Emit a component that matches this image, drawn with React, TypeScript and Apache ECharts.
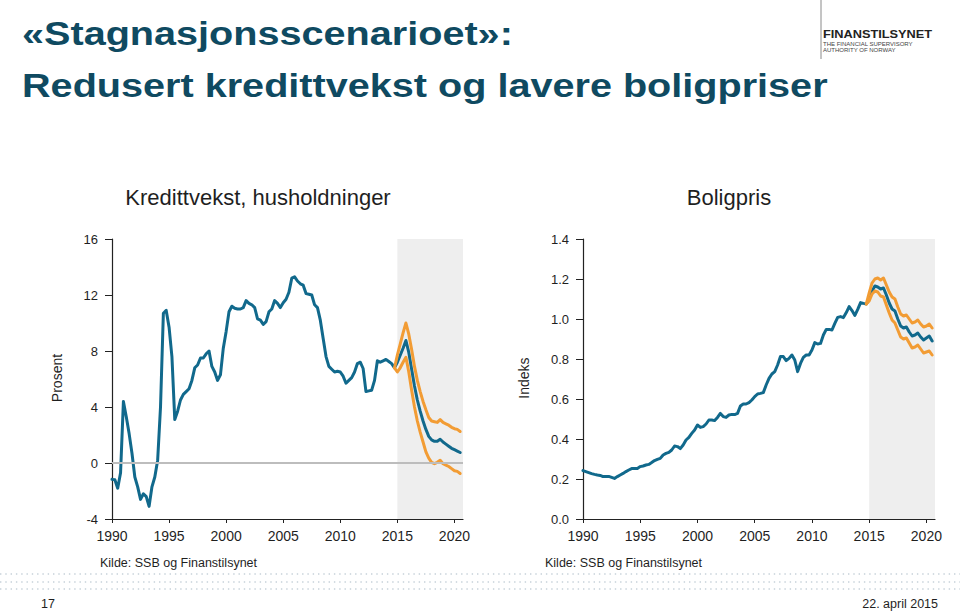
import React, { useEffect, useRef } from "react";
import * as echarts from "echarts";

// ---------- data ----------
const xTicks = [1990, 1995, 2000, 2005, 2010, 2015, 2020];
const historyStart = 1990; // first quarter of history
const forecastJoin = 2014.75; // last historical quarter, where scenarios start
const shadeStart = 2015;
const axisEnd = 2020.75;

// Kredittvekst, husholdninger (prosent), quarterly 1990Q1–2014Q4
const creditHistory = [
  -1.17, -1.2, -1.8, -0.7, 4.4, 3.3, 2.1, 0.7, -1.0, -1.7, -2.6, -2.2, -2.4, -3.1, -1.7, -1.0,
  0.2, 4.0, 10.7, 10.9, 9.7, 7.6, 3.1, 3.7, 4.5, 4.9, 5.1, 5.3, 5.9, 6.8, 7.0, 7.5,
  7.5, 7.8, 8.0, 6.9, 6.5, 5.9, 6.3, 8.2, 9.4, 10.8, 11.2, 11.05, 11.0, 11.0, 11.1, 11.6,
  11.4, 11.3, 11.1, 10.3, 10.2, 9.9, 10.1, 10.8, 11.0, 11.6, 11.4, 11.1, 11.45, 11.7, 12.2, 13.2,
  13.3, 13.0, 12.8, 12.7, 12.1, 12.05, 12.0, 11.3, 11.1, 10.2, 8.9, 7.6, 6.9, 6.7, 6.5, 6.55,
  6.5, 6.2, 5.7, 5.9, 6.1, 6.5, 7.1, 7.2, 6.75, 5.1, 5.15, 5.2, 5.9, 7.3, 7.2, 7.3,
  7.4, 7.25, 7.1, 6.8,
];
// base scenario 2015Q1–2020Q3
const creditBase = [
  7.2, 7.7, 8.2, 8.75, 7.9, 6.7, 5.5, 4.5, 3.7, 3.0, 2.4, 1.9, 1.65, 1.55, 1.55, 1.7,
  1.5, 1.35, 1.2, 1.05, 0.95, 0.85, 0.75,
];
// stagnation band 2014Q4–2020Q3
const creditHigh = [
  6.8, 7.7, 8.5, 9.3, 10.0, 9.2, 8.1, 6.9, 5.9, 5.1, 4.4, 3.8, 3.25, 3.0, 2.95, 2.9,
  3.1, 2.9, 2.8, 2.7, 2.55, 2.45, 2.4, 2.25,
];
const creditLow = [
  6.8, 6.5, 6.8, 7.2, 7.55, 6.5, 5.2, 4.0, 3.0, 2.2, 1.5, 0.8, 0.35, 0.05, -0.05, 0.05,
  0.2, -0.05, -0.15, -0.25, -0.4, -0.55, -0.6, -0.75,
];

// Boligpris (indeks), quarterly 1990Q1–2014Q4
const houseHistory = [
  0.242, 0.237, 0.232, 0.227, 0.223, 0.22, 0.218, 0.212, 0.213, 0.213, 0.208, 0.203, 0.212, 0.22, 0.228, 0.237,
  0.245, 0.252, 0.252, 0.253, 0.262, 0.265, 0.27, 0.273, 0.282, 0.292, 0.298, 0.303, 0.32, 0.328, 0.333, 0.345,
  0.365, 0.362, 0.352, 0.37, 0.395, 0.408, 0.428, 0.445, 0.47, 0.458, 0.462, 0.475, 0.495, 0.495, 0.492, 0.508,
  0.528, 0.512, 0.508, 0.52, 0.523, 0.522, 0.528, 0.565, 0.575, 0.575, 0.582, 0.595, 0.612, 0.625, 0.628, 0.632,
  0.67, 0.703, 0.725, 0.737, 0.77, 0.812, 0.812, 0.792, 0.803, 0.82, 0.795, 0.737, 0.778, 0.808, 0.82, 0.82,
  0.845, 0.882, 0.875, 0.878, 0.92, 0.948, 0.948, 0.945, 0.978, 1.008, 1.012, 1.007, 1.032, 1.062, 1.042, 1.018,
  1.048, 1.082, 1.078, 1.075,
];
const houseBase = [
  1.1, 1.14, 1.165, 1.16, 1.15, 1.155, 1.12, 1.08, 1.05, 1.04, 1.0, 0.965, 0.955, 0.96, 0.935, 0.915,
  0.92, 0.93, 0.91, 0.895, 0.905, 0.915, 0.89,
];
const houseHigh = [
  1.075, 1.13, 1.18, 1.2, 1.205, 1.195, 1.205, 1.17, 1.135, 1.11, 1.1, 1.06, 1.025, 1.015, 1.02, 1.0,
  0.98, 0.985, 0.995, 0.975, 0.96, 0.965, 0.975, 0.955,
];
const houseLow = [
  1.075, 1.09, 1.125, 1.14, 1.135, 1.115, 1.11, 1.07, 1.03, 0.995, 0.98, 0.945, 0.91, 0.9, 0.905, 0.88,
  0.855, 0.86, 0.87, 0.85, 0.83, 0.835, 0.84, 0.82,
];

// ---------- helpers ----------
const quarterly = (values: number[], start: number) =>
  values.map((v, i) => [start + i * 0.25, v]);

const FONT = "'Liberation Sans', Arial, Helvetica, sans-serif";
const BLUE = "#11698c";
const ORANGE = "#f29c34";
const TITLE = "#0f4a61";
const TEXT = "#1f1f1f";

function xAxis(gridIndex: number) {
  return {
    type: "value",
    gridIndex,
    min: historyStart,
    max: axisEnd,
    axisLine: { show: true, onZero: false, lineStyle: { color: "#222", width: 1.2 } },
    axisTick: { show: true, length: 4, customValues: xTicks, lineStyle: { color: "#222", width: 1 } },
    axisLabel: {
      customValues: xTicks,
      color: TEXT,
      fontSize: 14,
      fontFamily: FONT,
      margin: 10,
      formatter: (v: number) => String(Math.round(v)),
    },
    splitLine: { show: false },
  };
}

function yAxis(gridIndex: number, min: number, max: number, interval: number, decimals: number) {
  return {
    type: "value",
    gridIndex,
    min,
    max,
    interval,
    axisLine: { show: true, lineStyle: { color: "#222", width: 1.2 } },
    axisTick: { show: true, length: 7, lineStyle: { color: "#222", width: 1 } },
    axisLabel: {
      color: TEXT,
      fontSize: 13,
      fontFamily: FONT,
      margin: 14,
      formatter: (v: number) => v.toFixed(decimals),
    },
    splitLine: { show: false },
  };
}

function lineSeries(name: string, idx: number, data: number[][], color: string, extra: any = {}) {
  return {
    name,
    type: "line",
    xAxisIndex: idx,
    yAxisIndex: idx,
    data,
    showSymbol: false,
    symbol: "none",
    lineStyle: { color, width: 3, join: "round", cap: "round" },
    silent: true,
    ...extra,
  };
}

const shade = {
  silent: true,
  itemStyle: { color: "#eeeeee" },
  data: [[{ xAxis: shadeStart }, { xAxis: axisEnd }]],
};

export default function App() {
  const ref = useRef<HTMLDivElement>(null);

  useEffect(() => {
    document.body.style.margin = "0";
    document.body.style.background = "#ffffff";
    if (!ref.current) return;
    const chart = echarts.init(ref.current, null, { renderer: "svg" });

    const creditMain = [
      ...quarterly(creditHistory, historyStart),
      ...quarterly(creditBase, shadeStart),
    ];
    const houseMain = [
      ...quarterly(houseHistory, historyStart),
      ...quarterly(houseBase, shadeStart),
    ];

    const dotted = [574, 582, 589].map((y) => ({
      type: "line",
      shape: { x1: 0, y1: y, x2: 960, y2: y },
      style: { stroke: "#c6d1d9", lineWidth: 1.4, lineDash: [1.4, 3.9] },
      silent: true,
    }));

    chart.setOption({
      animation: false,
      backgroundColor: "#ffffff",
      textStyle: { fontFamily: FONT },
      grid: [
        { left: 112, top: 239, width: 351, height: 280 },
        { left: 583, top: 239, width: 352, height: 280 },
      ],
      xAxis: [xAxis(0), xAxis(1)],
      yAxis: [yAxis(0, -4, 16, 4, 0), yAxis(1, 0, 1.4, 0.2, 1)],
      series: [
        lineSeries("Kredittvekst", 0, creditMain, BLUE, {
          markArea: shade,
          markLine: {
            silent: true,
            symbol: "none",
            label: { show: false },
            lineStyle: { color: "#bdbdbd", width: 1.8, type: "solid" },
            data: [{ yAxis: 0 }],
          },
        }),
        lineSeries("Kredittvekst høy", 0, quarterly(creditHigh, forecastJoin), ORANGE),
        lineSeries("Kredittvekst lav", 0, quarterly(creditLow, forecastJoin), ORANGE),
        lineSeries("Boligpris", 1, houseMain, BLUE, { markArea: shade }),
        lineSeries("Boligpris høy", 1, quarterly(houseHigh, forecastJoin), ORANGE),
        lineSeries("Boligpris lav", 1, quarterly(houseLow, forecastJoin), ORANGE),
      ],
      graphic: [
        {
          type: "text",
          x: 22,
          y: 33,
          scaleX: 1.165,
          style: {
            text: "«Stagnasjonsscenarioet»:",
            font: `bold 34px ${FONT}`,
            fill: TITLE,
            verticalAlign: "middle",
          },
        },
        {
          type: "text",
          x: 22,
          y: 85,
          scaleX: 1.165,
          style: {
            text: "Redusert kredittvekst og lavere boligpriser",
            font: `bold 34px ${FONT}`,
            fill: TITLE,
            verticalAlign: "middle",
          },
        },
        {
          type: "line",
          shape: { x1: 821, y1: 0, x2: 821, y2: 59 },
          style: { stroke: "#8a8a8a", lineWidth: 1 },
        },
        {
          type: "text",
          x: 823,
          y: 34,
          scaleX: 1.16,
          style: { text: "FINANSTILSYNET", font: `bold 11px ${FONT}`, fill: "#222", verticalAlign: "middle" },
        },
        {
          type: "text",
          x: 823,
          y: 44,
          style: { text: "THE FINANCIAL SUPERVISORY", font: `6px ${FONT}`, fill: "#444", verticalAlign: "middle" },
        },
        {
          type: "text",
          x: 823,
          y: 49.5,
          style: { text: "AUTHORITY OF NORWAY", font: `6px ${FONT}`, fill: "#444", verticalAlign: "middle" },
        },
        {
          type: "text",
          x: 258,
          y: 197,
          style: {
            text: "Kredittvekst, husholdninger",
            font: `22px ${FONT}`,
            fill: TEXT,
            align: "center",
            verticalAlign: "middle",
          },
        },
        {
          type: "text",
          x: 729,
          y: 197,
          style: { text: "Boligpris", font: `22px ${FONT}`, fill: TEXT, align: "center", verticalAlign: "middle" },
        },
        {
          type: "text",
          x: 57,
          y: 378,
          rotation: Math.PI / 2,
          style: { text: "Prosent", font: `14px ${FONT}`, fill: TEXT, align: "center", verticalAlign: "middle" },
        },
        {
          type: "text",
          x: 524,
          y: 378,
          rotation: Math.PI / 2,
          style: { text: "Indeks", font: `14px ${FONT}`, fill: TEXT, align: "center", verticalAlign: "middle" },
        },
        {
          type: "text",
          x: 100,
          y: 563,
          style: { text: "Kilde: SSB og Finanstilsynet", font: `12.5px ${FONT}`, fill: TEXT, verticalAlign: "middle" },
        },
        {
          type: "text",
          x: 545,
          y: 563,
          style: { text: "Kilde: SSB og Finanstilsynet", font: `12.5px ${FONT}`, fill: TEXT, verticalAlign: "middle" },
        },
        ...dotted,
        {
          type: "text",
          x: 41,
          y: 604,
          style: { text: "17", font: `12.5px ${FONT}`, fill: TEXT, verticalAlign: "middle" },
        },
        {
          type: "text",
          x: 938,
          y: 604,
          style: { text: "22. april 2015", font: `12.5px ${FONT}`, fill: TEXT, align: "right", verticalAlign: "middle" },
        },
      ],
    });

    return () => chart.dispose();
  }, []);

  return <div ref={ref} style={{ width: 960, height: 611 }} />;
}
